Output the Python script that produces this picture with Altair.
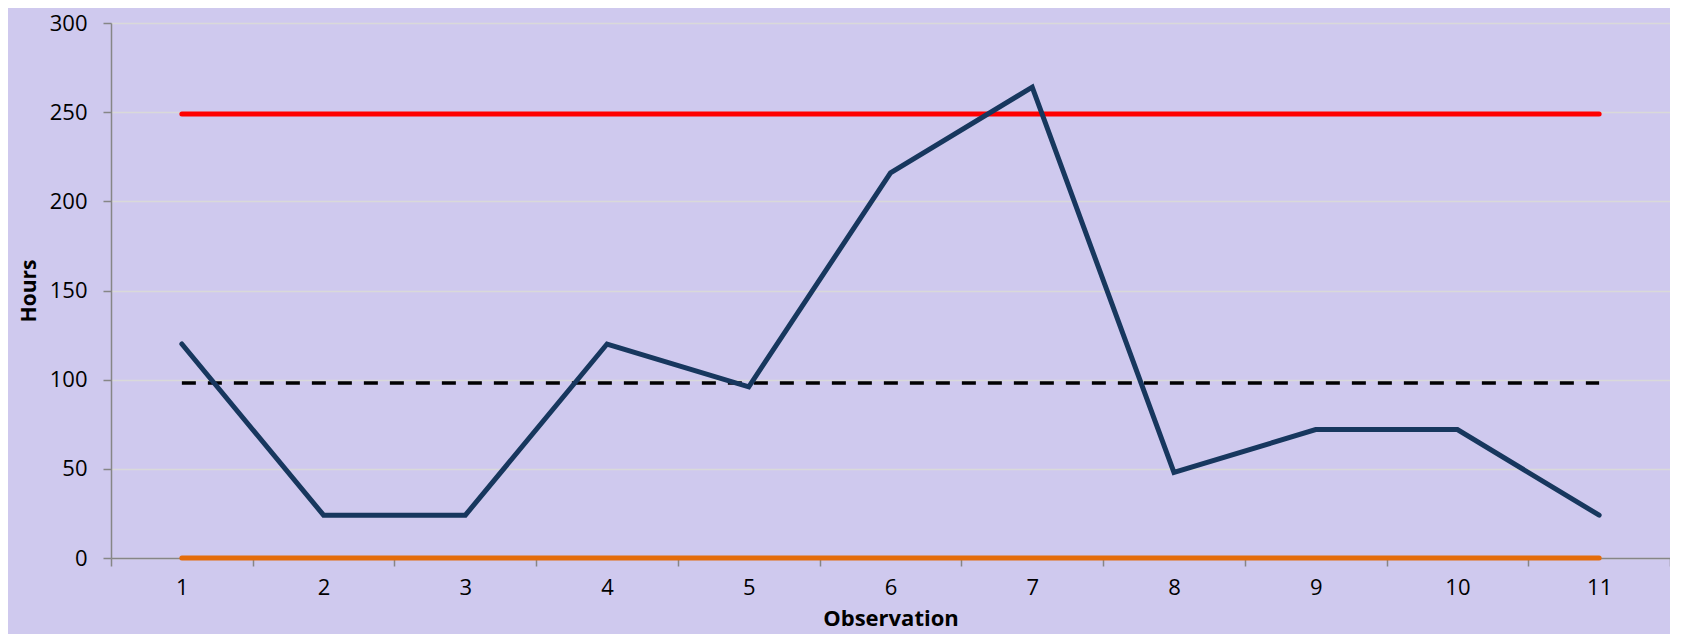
import altair as alt
import pandas as pd

observations = [1, 2, 3, 4, 5, 6, 7, 8, 9, 10, 11]
hours = [120, 24, 24, 120, 96, 216, 264, 48, 72, 72, 24]
ucl_value = 249
mean_value = 98.2
lcl_value = 0

df = pd.DataFrame({
    "Observation": observations,
    "Hours": hours,
    "UCL": [ucl_value] * len(observations),
    "Mean": [mean_value] * len(observations),
    "LCL": [lcl_value] * len(observations),
})

FONT = "Open Sans"
xenc = alt.X(
    "Observation:O",
    title="Observation",
    scale=alt.Scale(type="band", paddingInner=0, paddingOuter=0),
    axis=alt.Axis(
        labelAngle=0, tickBand="extent", grid=False,
        domainColor="#868686", tickColor="#868686", domainWidth=1.5, tickWidth=1.5,
        tickSize=8, labelFontSize=22, labelFont=FONT, labelColor="#000000",
        labelPadding=11, titleFontSize=22, titleFont=FONT, titleFontWeight="bold",
        titleColor="#000000", titlePadding=10,
    ),
)
yscale = alt.Scale(domain=[0, 300], nice=False)
yaxis = alt.Axis(
    values=[0, 50, 100, 150, 200, 250, 300], grid=True, gridColor="#D9D9D9", gridWidth=1.5,
    domainColor="#868686", tickColor="#868686", domainWidth=1.5, tickWidth=1.5,
    tickSize=8, labelFontSize=22, labelFont=FONT, labelColor="#000000",
    labelPadding=16, titleFontSize=21, titleFont=FONT, titleFontWeight="bold",
    titleColor="#000000", titlePadding=10,
)

base = alt.Chart(df)
ucl = base.mark_line(color="#FF0000", strokeWidth=5, strokeCap="round").encode(
    x=xenc, y=alt.Y("UCL:Q", scale=yscale, axis=yaxis, title="Hours"))
lcl = base.mark_line(color="#E46C0A", strokeWidth=5, strokeCap="round").encode(
    x=xenc, y=alt.Y("LCL:Q", scale=yscale, axis=yaxis, title="Hours"))
mean = base.mark_line(color="#000000", strokeWidth=3.5, strokeDash=[14, 12]).encode(
    x=xenc, y=alt.Y("Mean:Q", scale=yscale, axis=yaxis, title="Hours"))
data_line = base.mark_line(color="#17375E", strokeWidth=5, strokeCap="round", strokeJoin="miter").encode(
    x=xenc, y=alt.Y("Hours:Q", scale=yscale, axis=yaxis, title="Hours"))

chart = alt.layer(ucl, mean, lcl, data_line).properties(
    width=1559, height=535,
    background="#CFC9EE",
    padding={"left": 103, "top": 15, "right": 0, "bottom": 76},
    autosize=alt.AutoSizeParams(type="none"),
).configure_view(stroke=None, fill="#CFC9EE")

chart.save("out.html", embed_options={"renderer": "svg", "actions": False})
